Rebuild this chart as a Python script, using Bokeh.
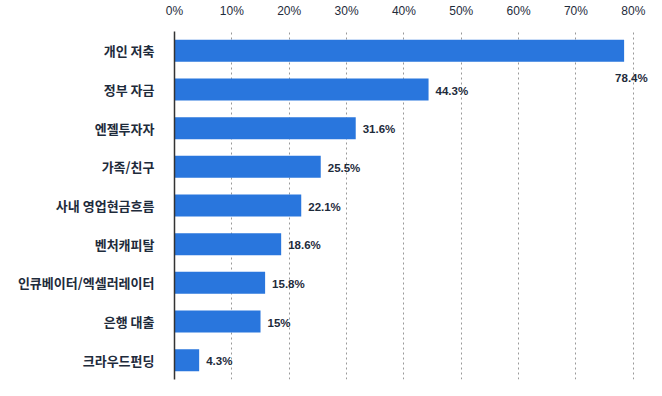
from bokeh.plotting import figure
from bokeh.models import ColumnDataSource, FixedTicker, PrintfTickFormatter, FactorRange, Range1d
from bokeh.embed import file_html
from bokeh.resources import INLINE
from bokeh.core.properties import value

categories = ["개인 저축", "정부 자금", "엔젤투자자", "가족/친구", "사내 영업현금흐름",
              "벤처캐피탈", "인큐베이터/엑셀러레이터", "은행 대출", "크라우드펀딩"]
values = [78.4, 44.3, 31.6, 25.5, 22.1, 18.6, 15.8, 15, 4.3]
value_labels = ["78.4%", "44.3%", "31.6%", "25.5%", "22.1%", "18.6%", "15.8%", "15%", "4.3%"]
x_ticks = [0, 10, 20, 30, 40, 50, 60, 70, 80]

TEXT = "#1e2b3b"
BAR = "#2976dd"

# labels that would run off the plot go below the bar end
x_off = [-9 if v > 70 else 7 for v in values]
y_off = [27 if v > 70 else 1 for v in values]

src = ColumnDataSource(dict(cat=categories, val=values, lab=value_labels,
                            xo=x_off, yo=y_off))

p = figure(width=654, height=388, output_backend="svg", toolbar_location=None,
           y_range=FactorRange(factors=list(reversed(categories)), range_padding=0),
           x_range=Range1d(0, 83), x_axis_location="above",
           min_border_left=174, min_border_top=29, min_border_bottom=9, min_border_right=4)
p.outline_line_color = None
p.background_fill_color = "white"
p.border_fill_color = "white"

p.hbar(y="cat", right="val", left=0, height=0.57, source=src, color=BAR, line_color=None)
p.text(x="val", y="cat", text="lab", source=src, x_offset="xo", y_offset="yo",
       text_align="left", text_baseline="middle", text_font=value("Liberation Sans"),
       text_font_size="11.5px", text_font_style="bold", text_color=TEXT)

xa = p.xaxis[0]
xa.ticker = FixedTicker(ticks=x_ticks)
xa.formatter = PrintfTickFormatter(format="%d%%")
xa.axis_line_color = None
xa.major_tick_line_color = None
xa.minor_tick_line_color = None
xa.major_label_standoff = 8
xa.major_label_text_font = "Liberation Sans"
xa.major_label_text_font_size = "12px"
xa.major_label_text_color = TEXT

ya = p.yaxis[0]
ya.axis_line_color = "#333333"
ya.axis_line_width = 1.5
ya.major_tick_line_color = None
ya.minor_tick_line_color = None
ya.major_label_standoff = 14
ya.major_label_text_font = "Noto Sans CJK KR"
ya.major_label_text_font_size = "13px"
ya.major_label_text_font_style = "bold"
ya.major_label_text_color = TEXT

p.xgrid.grid_line_color = "#999999"
p.xgrid.grid_line_dash = "2 3"
p.xgrid.grid_line_width = 1
p.ygrid.grid_line_color = None

open("out.html", "w").write(file_html(p, INLINE))
